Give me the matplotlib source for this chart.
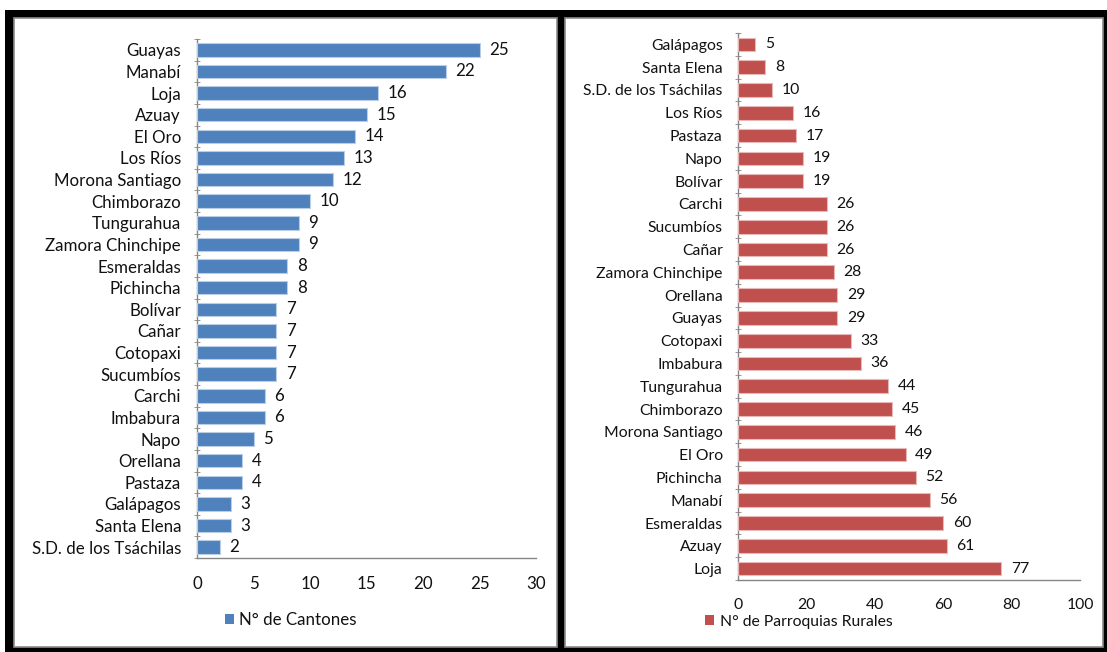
import matplotlib
matplotlib.use("Agg")
import matplotlib.pyplot as plt
from matplotlib.patches import Rectangle
import numpy as np

plt.rcParams['font.family'] = ['Lato', 'DejaVu Sans']

cantones_prov = ["Guayas", "Manabí", "Loja", "Azuay", "El Oro", "Los Ríos",
                 "Morona Santiago", "Chimborazo", "Tungurahua", "Zamora Chinchipe",
                 "Esmeraldas", "Pichincha", "Bolívar", "Cañar", "Cotopaxi",
                 "Sucumbíos", "Carchi", "Imbabura", "Napo", "Orellana", "Pastaza",
                 "Galápagos", "Santa Elena", "S.D. de los Tsáchilas"]
cantones_val = [25, 22, 16, 15, 14, 13, 12, 10, 9, 9, 8, 8, 7, 7, 7, 7, 6, 6,
                5, 4, 4, 3, 3, 2]

parroq_prov = ["Galápagos", "Santa Elena", "S.D. de los Tsáchilas", "Los Ríos",
               "Pastaza", "Napo", "Bolívar", "Carchi", "Sucumbíos", "Cañar",
               "Zamora Chinchipe", "Orellana", "Guayas", "Cotopaxi", "Imbabura",
               "Tungurahua", "Chimborazo", "Morona Santiago", "El Oro",
               "Pichincha", "Manabí", "Esmeraldas", "Azuay", "Loja"]
parroq_val = [5, 8, 10, 16, 17, 19, 19, 26, 26, 26, 28, 29, 29, 33, 36, 44,
              45, 46, 49, 52, 56, 60, 61, 77]

left_ticks = [0, 5, 10, 15, 20, 25, 30]
right_ticks = [0, 20, 40, 60, 80, 100]

W, H = 1107, 652
fig = plt.figure(figsize=(W / 100, H / 100), dpi=100)


def px_rect(x0, y0, x1, y1, **kw):
    return Rectangle((x0 / W, 1 - y1 / H), (x1 - x0) / W, (y1 - y0) / H,
                     transform=fig.transFigure, **kw)


fig.patches.append(px_rect(5, 10, 1107, 652, facecolor='black', edgecolor='none', zorder=0))
fig.patches.append(px_rect(14, 18, 557, 647, facecolor='white', edgecolor='#8c8c8c', lw=1.2, zorder=0.5))
fig.patches.append(px_rect(565, 18, 1103, 647, facecolor='white', edgecolor='#8c8c8c', lw=1.2, zorder=0.5))


def make_axes(x0, y0, x1, y1):
    ax = fig.add_axes([x0 / W, 1 - y1 / H, (x1 - x0) / W, (y1 - y0) / H])
    ax.set_zorder(3)
    return ax


spine_c = '#868686'
txt_c = '#111111'


def draw(ax, cats, vals, color, edge, xmax, ticks, pad, height, fs, ypad):
    n = len(cats)
    y = np.arange(n)
    ax.barh(y, vals, height=height, color=color, edgecolor=edge, linewidth=0.8, zorder=3)
    ax.set_xlim(0, xmax)
    ax.set_ylim(n - 0.5, -0.5)
    ax.set_xticks(ticks)
    ax.set_xticklabels([str(t) for t in ticks], fontsize=fs, color=txt_c)
    ax.tick_params(axis='x', length=0, pad=pad)
    ax.set_yticks(y)
    ax.set_yticklabels(cats, fontsize=fs, color=txt_c)
    ax.tick_params(axis='y', length=0, pad=ypad)
    ax.set_yticks(np.arange(n + 1) - 0.5, minor=True)
    ax.tick_params(axis='y', which='minor', length=5, direction='inout', color=spine_c)
    for s in ['top', 'right']:
        ax.spines[s].set_visible(False)
    for s in ['left', 'bottom']:
        ax.spines[s].set_color(spine_c)
        ax.spines[s].set_linewidth(1.0)
    ax.set_facecolor('none')
    for yi, v in zip(y, vals):
        ax.annotate(str(v), (v, yi), xytext=(7, 0), textcoords='offset points',
                    va='center', ha='left', fontsize=fs, color=txt_c)


FS1 = 12.2
FS2 = 11.3

ax1 = make_axes(197, 39, 536, 558)
draw(ax1, cantones_prov, cantones_val, '#4F81BD', '#B9CDE5', 30, left_ticks, 13, 0.62, FS1, 11.5)

ax2 = make_axes(738, 33, 1080, 580)
draw(ax2, parroq_prov, parroq_val, '#C0504D', '#E6B9B8', 100, right_ticks, 13, 0.6, FS2, 11)

# legends
leg1 = fig.legend(handles=[Rectangle((0, 0), 1, 1, facecolor='#4F81BD', edgecolor='none')],
                  labels=["N° de Cantones"], loc='center left',
                  bbox_to_anchor=(225 / W, 1 - 620 / H), frameon=False,
                  fontsize=FS1, handlelength=0.55, handleheight=0.55, handletextpad=0.3,
                  borderpad=0, borderaxespad=0)
leg2 = fig.legend(handles=[Rectangle((0, 0), 1, 1, facecolor='#C0504D', edgecolor='none')],
                  labels=["N° de Parroquias Rurales"], loc='center left',
                  bbox_to_anchor=(705 / W, 1 - 622 / H), frameon=False,
                  fontsize=FS2, handlelength=0.6, handleheight=0.6, handletextpad=0.35,
                  borderpad=0, borderaxespad=0)
for lg in (leg1, leg2):
    for t in lg.get_texts():
        t.set_color(txt_c)

fig.savefig("out.png", dpi=100)
